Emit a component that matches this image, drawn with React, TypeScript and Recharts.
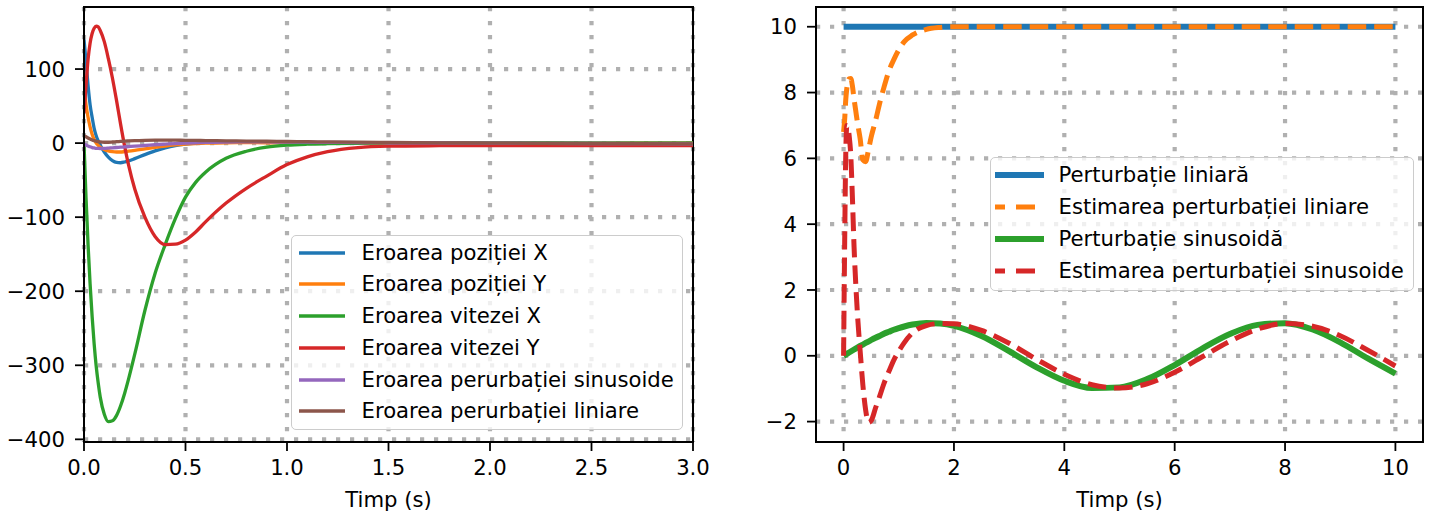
import React from 'react';
import { LineChart, Line, XAxis, YAxis, CartesianGrid, Legend, Label, ReferenceArea } from 'recharts';

// ---------- Left panel data (errors) ----------
const timeLeft = [0, 0.01, 0.02, 0.03, 0.04, 0.05, 0.06, 0.07, 0.08, 0.1, 0.12, 0.14, 0.16, 0.18, 0.2, 0.22, 0.25, 0.3, 0.35, 0.4, 0.45, 0.5, 0.55, 0.6, 0.7, 0.8, 0.9, 1.0, 1.1, 1.2, 1.35, 1.5, 1.75, 2.0, 2.5, 3.0];
const errPosX = [140, 110, 78, 52, 35, 20, 10, 3, -3, -12, -19, -23.5, -26, -26.5, -25.5, -24, -21, -15.5, -10.5, -6.5, -3.5, -1.5, 0, 1, 2, 2, 1.5, 1.2, 0.8, 0.5, 0.3, 0.1, 0, 0, 0, 0];
const errPosY = [75, 52, 35, 22, 12, 5, 0, -3, -5.5, -8.5, -10.5, -11.5, -12, -12, -11.5, -10.8, -9.8, -7.8, -5.8, -4, -2.5, -1.3, -0.5, 0, 0.5, 0.6, 0.5, 0.4, 0.3, 0.2, 0.1, 0, 0, 0, 0, 0];
const errVelX = [0, -74, -137, -190, -234, -271, -301, -324, -343, -366, -376, -375, -368, -355, -338, -318, -285, -226, -176, -137, -102, -73, -53, -39, -20.5, -11, -5.5, -2.8, -1.5, -0.8, -0.2, 0.2, 0.3, 0.2, 0.1, 0];
const errVelY = [40, 78, 113, 135, 148, 155, 158, 157, 152, 137, 114, 88, 58, 26, -4, -30, -62, -100, -126, -137, -136.5, -131, -120, -106, -81, -61, -44.5, -29, -18.5, -11.5, -6, -4.2, -3.5, -3.2, -3.2, -3.5];
const errSin = [-1, -2.5, -4, -5, -6, -6.5, -7, -7.2, -7.3, -7.2, -6.8, -6.3, -5.9, -5.5, -5.1, -4.7, -4.1, -3.2, -2.2, -1.4, -0.6, 0, 0.5, 1, 1.5, 1.7, 1.6, 1.4, 1.2, 1, 0.7, 0.5, 0.2, 0, -0.5, -1];
const errLin = [10, 8.5, 7, 5.5, 4.3, 3.3, 2.5, 2, 1.6, 1.2, 1.2, 1.5, 1.9, 2.3, 2.7, 3, 3.4, 3.8, 4, 4, 3.9, 3.8, 3.6, 3.4, 3.1, 2.8, 2.5, 2.2, 1.9, 1.6, 1.2, 0.9, 0.4, 0, -0.6, -1];

const leftXTicks = [0, 0.5, 1, 1.5, 2, 2.5, 3];
const leftYTicks = [-400, -300, -200, -100, 0, 100];

const leftSeries = [
  { key: 'posX', name: 'Eroarea poziției X', color: '#1f77b4', values: errPosX },
  { key: 'posY', name: 'Eroarea poziției Y', color: '#ff7f0e', values: errPosY },
  { key: 'velX', name: 'Eroarea vitezei X', color: '#2ca02c', values: errVelX },
  { key: 'velY', name: 'Eroarea vitezei Y', color: '#d62728', values: errVelY },
  { key: 'sin', name: 'Eroarea perurbației sinusoide', color: '#9467bd', values: errSin },
  { key: 'lin', name: 'Eroarea perurbației liniare', color: '#8c564b', values: errLin },
];

// ---------- Right panel data (disturbances) ----------
const timeRight = [0, 0.02, 0.04, 0.06, 0.08, 0.1, 0.13, 0.16, 0.19, 0.22, 0.25, 0.3, 0.35, 0.4, 0.45, 0.5, 0.58, 0.65, 0.73, 0.82, 0.91, 1.0, 1.1, 1.25, 1.5, 1.75, 2.0, 2.5, 3, 3.5, 4, 4.5, 5, 5.5, 6, 6.5, 7, 7.5, 8, 8.5, 9, 9.5, 10];
const distLin = [10, 10, 10, 10, 10, 10, 10, 10, 10, 10, 10, 10, 10, 10, 10, 10, 10, 10, 10, 10, 10, 10, 10, 10, 10, 10, 10, 10, 10, 10, 10, 10, 10, 10, 10, 10, 10, 10, 10, 10, 10, 10, 10];
const estLin = [6.8, 7.2, 7.8, 8.15, 8.35, 8.42, 8.43, 8.2, 7.8, 7.45, 7.1, 6.6, 5.95, 5.9, 6.25, 6.65, 7.15, 7.65, 8.15, 8.65, 9.0, 9.3, 9.55, 9.75, 9.92, 9.98, 10, 10, 10, 10, 10, 10, 10, 10, 10, 10, 10, 10, 10, 10, 10, 10, 10];
const distSin = [0, 0.02, 0.04, 0.06, 0.08, 0.1, 0.13, 0.16, 0.19, 0.22, 0.25, 0.3, 0.34, 0.39, 0.43, 0.48, 0.55, 0.6, 0.67, 0.73, 0.79, 0.84, 0.89, 0.95, 1.0, 0.98, 0.91, 0.6, 0.14, -0.35, -0.76, -0.98, -0.96, -0.71, -0.28, 0.22, 0.66, 0.94, 0.99, 0.8, 0.41, -0.08, -0.54];
const estSin = [0, 3.5, 6.2, 7.0, 6.95, 6.7, 6.1, 4.8, 3.3, 2.2, 1.3, 0.15, -0.9, -1.65, -2.03, -1.97, -1.58, -1.25, -0.85, -0.48, -0.13, 0.14, 0.4, 0.7, 0.92, 0.98, 0.97, 0.77, 0.38, -0.11, -0.56, -0.88, -0.98, -0.85, -0.5, -0.03, 0.44, 0.81, 0.98, 0.9, 0.61, 0.17, -0.31];

const rightXTicks = [0, 2, 4, 6, 8, 10];
const rightYTicks = [-2, 0, 2, 4, 6, 8, 10];

const rightSeries = [
  { key: 'dLin', name: 'Perturbație liniară', color: '#1f77b4', values: distLin, width: 6, dash: undefined as string | undefined },
  { key: 'eLin', name: 'Estimarea perturbației liniare', color: '#ff7f0e', values: estLin, width: 5, dash: '18.5 8' },
  { key: 'dSin', name: 'Perturbație sinusoidă', color: '#2ca02c', values: distSin, width: 6, dash: undefined },
  { key: 'eSin', name: 'Estimarea perturbației sinusoide', color: '#d62728', values: estSin, width: 5, dash: '18.5 8' },
];

const leftData = timeLeft.map((t, i) => {
  const row: Record<string, number> = { t };
  leftSeries.forEach((s) => (row[s.key] = s.values[i]));
  return row;
});
const rightData = timeRight.map((t, i) => {
  const row: Record<string, number> = { t };
  rightSeries.forEach((s) => (row[s.key] = s.values[i]));
  return row;
});

const LEFT_X: [number, number] = [0, 3];
const LEFT_Y: [number, number] = [-403.6, 183.8];
const RIGHT_X: [number, number] = [-0.5, 10.5];
const RIGHT_Y: [number, number] = [-2.62, 10.6];

const FONT = 'DejaVu Sans';
const FS = 21.2;
const tickStyle = { fontFamily: FONT, fontSize: FS, fill: '#000' };
const minus = (v: number) => String(v).replace('-', '\u2212');

type LegItem = { name: string; color: string; width: number; dash?: string; dashOffset?: number };

function LegendBox(props: { items: LegItem[]; width: number; height: number; handleX: number; handleLen: number; textX: number; firstY: number; gap: number }) {
  const { items, width, height, handleX, handleLen, textX, firstY, gap } = props;
  return (
    <div
      style={{
        width,
        height,
        boxSizing: 'border-box',
        border: '1.3px solid #cccccc',
        borderRadius: 5,
        background: 'rgba(255,255,255,0.8)',
        position: 'relative',
      }}
    >
      {items.map((it, i) => (
        <div key={i} style={{ position: 'absolute', left: 0, top: firstY + i * gap - 15, height: 30, width: '100%' }}>
          <svg style={{ position: 'absolute', left: handleX, top: 0 }} width={handleLen} height={30}>
            <line x1={0} y1={15} x2={handleLen} y2={15} stroke={it.color} strokeWidth={it.width} strokeDasharray={it.dash} strokeDashoffset={it.dashOffset} />
          </svg>
          <span
            style={{
              position: 'absolute',
              left: textX,
              top: 0,
              lineHeight: '30px',
              fontFamily: FONT,
              fontSize: FS,
              color: '#000',
              whiteSpace: 'nowrap',
            }}
          >
            {it.name}
          </span>
        </div>
      ))}
    </div>
  );
}

export default function App() {
  return (
    <div style={{ position: 'absolute', left: 0, top: 0, width: 1430, height: 518, background: '#fff' }}>
      <div style={{ position: 'absolute', left: 0, top: 0 }}>
        <LineChart width={715} height={518} data={leftData} margin={{ top: 7, right: 22, bottom: 0, left: 0 }}>
          <CartesianGrid stroke="#b0b0b0" strokeWidth={4.2} strokeDasharray="4.2 9.8" horizontalValues={leftYTicks} verticalValues={leftXTicks} />
          <XAxis
            dataKey="t"
            type="number"
            domain={LEFT_X}
            ticks={leftXTicks}
            allowDataOverflow
            tickFormatter={(v: number) => v.toFixed(1)}
            tick={tickStyle}
            tickSize={9}
            tickMargin={9}
            height={76}
            axisLine={{ stroke: '#000', strokeWidth: 2 }}
            tickLine={{ stroke: '#000', strokeWidth: 1.8 }}
          >
            <Label value="Timp (s)" position="insideBottom" offset={11} style={{ fontFamily: FONT, fontSize: FS, fill: '#000' }} />
          </XAxis>
          <YAxis
            type="number"
            domain={LEFT_Y}
            ticks={leftYTicks}
            allowDataOverflow
            tickFormatter={minus}
            tick={tickStyle}
            tickSize={9}
            tickMargin={10}
            width={84}
            axisLine={{ stroke: '#000', strokeWidth: 2 }}
            tickLine={{ stroke: '#000', strokeWidth: 1.8 }}
          />
          {leftSeries.map((s) => (
            <Line key={s.key} dataKey={s.key} name={s.name} type="monotone" stroke={s.color} strokeWidth={3.3} dot={false} isAnimationActive={false} />
          ))}
          <ReferenceArea x1={LEFT_X[0]} x2={LEFT_X[1]} y1={LEFT_Y[0]} y2={LEFT_Y[1]} fill="none" fillOpacity={0} stroke="#000" strokeWidth={2} ifOverflow="visible" />
          <Legend
            layout="vertical"
            align="center"
            verticalAlign="middle"
            wrapperStyle={{ left: 291, top: 235, width: 392, height: 195 }}
            content={() => (
              <LegendBox
                items={leftSeries.map((s) => ({ name: s.name, color: s.color, width: 3.3 }))}
                width={392}
                height={195}
                handleX={7}
                handleLen={46}
                textX={69.5}
                firstY={16.7}
                gap={31.7}
              />
            )}
          />
        </LineChart>
      </div>
      <div style={{ position: 'absolute', left: 715, top: 0 }}>
        <LineChart width={715} height={518} data={rightData} margin={{ top: 7, right: 7, bottom: 0, left: 0 }}>
          <CartesianGrid stroke="#b0b0b0" strokeWidth={4.2} strokeDasharray="4.2 9.8" horizontalValues={rightYTicks} verticalValues={rightXTicks} />
          <XAxis
            dataKey="t"
            type="number"
            domain={RIGHT_X}
            ticks={rightXTicks}
            allowDataOverflow
            tick={tickStyle}
            tickSize={9}
            tickMargin={9}
            height={76}
            axisLine={{ stroke: '#000', strokeWidth: 2 }}
            tickLine={{ stroke: '#000', strokeWidth: 1.8 }}
          >
            <Label value="Timp (s)" position="insideBottom" offset={11} style={{ fontFamily: FONT, fontSize: FS, fill: '#000' }} />
          </XAxis>
          <YAxis
            type="number"
            domain={RIGHT_Y}
            ticks={rightYTicks}
            allowDataOverflow
            tickFormatter={minus}
            tick={tickStyle}
            tickSize={9}
            tickMargin={10}
            width={101}
            axisLine={{ stroke: '#000', strokeWidth: 2 }}
            tickLine={{ stroke: '#000', strokeWidth: 1.8 }}
          />
          {rightSeries.map((s) => (
            <Line key={s.key} dataKey={s.key} name={s.name} type="monotone" stroke={s.color} strokeWidth={s.width} strokeDasharray={s.dash} dot={false} isAnimationActive={false} />
          ))}
          <ReferenceArea x1={RIGHT_X[0]} x2={RIGHT_X[1]} y1={RIGHT_Y[0]} y2={RIGHT_Y[1]} fill="none" fillOpacity={0} stroke="#000" strokeWidth={2} ifOverflow="visible" />
          <Legend
            layout="vertical"
            align="center"
            verticalAlign="middle"
            wrapperStyle={{ left: 989.5 - 715, top: 156.5, width: 424, height: 134 }}
            content={() => (
              <LegendBox
                items={rightSeries.map((s) => ({ name: s.name, color: s.color, width: s.width, dash: s.dash ? '19 11' : undefined, dashOffset: s.dash ? 9 : undefined }))}
                width={424}
                height={134}
                handleX={4.5}
                handleLen={49}
                textX={68}
                firstY={17.5}
                gap={32}
              />
            )}
          />
        </LineChart>
      </div>
    </div>
  );
}
